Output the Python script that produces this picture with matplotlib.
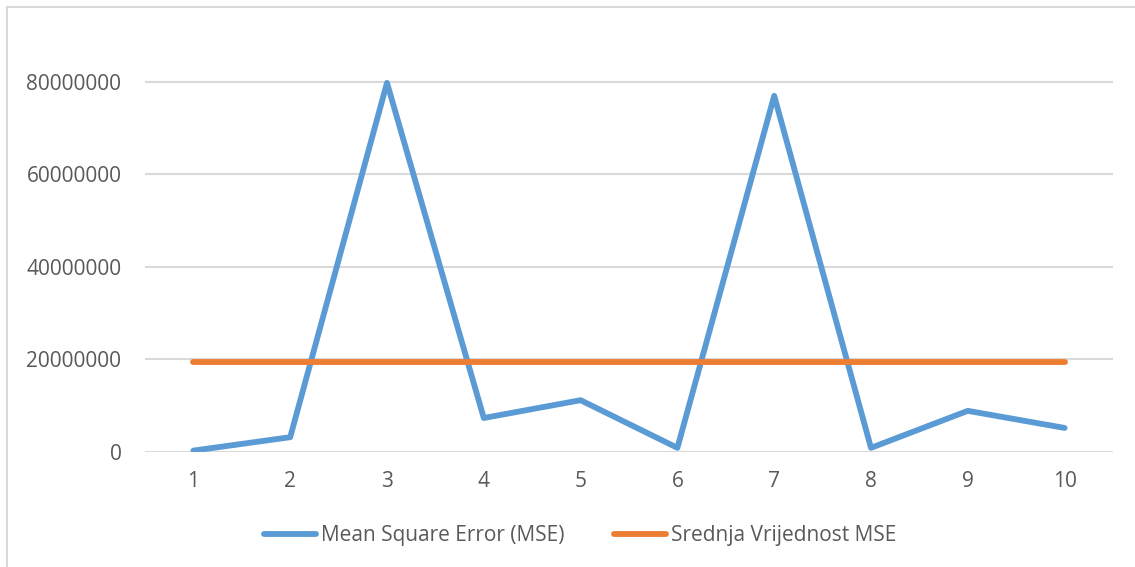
import matplotlib.pyplot as plt
from matplotlib.patches import Rectangle

# Data
runs = [1, 2, 3, 4, 5, 6, 7, 8, 9, 10]
mse = [300000, 3200000, 79800000, 7350000, 11200000, 900000,
       77000000, 900000, 8900000, 5200000]
mean_mse = [sum(mse) / len(mse)] * len(runs)
y_ticks = [0, 20000000, 40000000, 60000000, 80000000]

blue = "#5b9bd5"
orange = "#ed7d31"
text_col = "#595959"
grid_col = "#d9d9d9"

plt.rcParams["font.family"] = ["Open Sans", "DejaVu Sans"]

fig = plt.figure(figsize=(11.35, 5.67), dpi=100)

# chart frame (partly cut off at right and bottom)
fig.patches.append(Rectangle((7 / 1135, -0.1), 1.2, 1 - 7 / 567 + 0.1,
                             transform=fig.transFigure, fill=False,
                             edgecolor=grid_col, linewidth=1.5))

ax = fig.add_axes([145 / 1135, 1 - 452 / 567, (1113 - 145) / 1135, (452 - 7) / 567])

ax.plot(runs, mse, color=blue, linewidth=4.2, solid_capstyle="round",
        solid_joinstyle="round", label="Mean Square Error (MSE)", zorder=3)
ax.plot(runs, mean_mse, color=orange, linewidth=4.2, solid_capstyle="round",
        label="Srednja Vrijednost MSE", zorder=3)

ax.set_xlim(0.5, 10.5)
ax.set_ylim(0, 96200000)
ax.set_xticks(runs)
ax.set_xticklabels([str(r) for r in runs])
ax.set_yticks(y_ticks)
ax.set_yticklabels([str(v) for v in y_ticks])

for t in y_ticks:
    ax.axhline(t, color=grid_col, linewidth=1.5, zorder=1)

for s in ax.spines.values():
    s.set_visible(False)
ax.tick_params(axis="both", length=0, labelsize=15, labelcolor=text_col)
ax.tick_params(axis="y", pad=17)
ax.tick_params(axis="x", pad=14)

leg = fig.legend(loc="center", bbox_to_anchor=(0.511, 1 - 536 / 567), ncol=2,
                 frameon=False, fontsize=15, handlelength=2.5,
                 columnspacing=2.35, handletextpad=0.25)
for txt in leg.get_texts():
    txt.set_color(text_col)

fig.savefig("out.png", dpi=100)
